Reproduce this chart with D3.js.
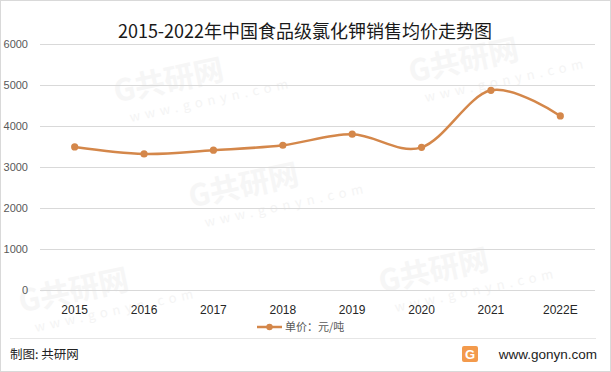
<!DOCTYPE html>
<html>
<head>
<meta charset="utf-8">
<script src="https://cdn.jsdelivr.net/npm/d3@7"></script>
<style>
body { margin: 0; background: #fff; }
svg { display: block; font-family: "Microsoft YaHei", "Noto Sans CJK SC", sans-serif; }
</style>
</head>
<body>
<script>
var years = ['2015', '2016', '2017', '2018', '2019', '2020', '2021', '2022E']
var prices = [3490, 3320, 3410, 3530, 3800, 3480, 4870, 4245]
var yTicks = [0, 1000, 2000, 3000, 4000, 5000, 6000]
var seriesName = '单价：元/吨'

var W = 611, H = 372
var plot = { left: 40, right: 595, top: 44, bottom: 290 }
var color = '#d4874a'

var svg = d3.select('body').append('svg')
	.attr('width', W)
	.attr('height', H)

// outer frame
svg.append('rect')
	.attr('x', 0.5).attr('y', 0.5)
	.attr('width', W - 1).attr('height', H - 1)
	.attr('fill', '#fff')
	.attr('stroke', '#d9d9d9')

// faint watermarks, kept inside the frame
var marks = [[175, 90], [470, 70], [250, 195], [80, 300], [440, 280]]
var wm = svg.append('g').attr('class', 'watermark')
marks.forEach(function(m){
	var g = wm.append('g').attr('transform', 'translate(' + m[0] + ',' + m[1] + ') rotate(-12)')
	g.append('text').attr('x', -60).attr('y', 0)
		.attr('font-size', 30).attr('font-weight', 'bold')
		.attr('fill', '#f6f6f6').text('G共研网')
	g.append('text').attr('x', -50).attr('y', 22)
		.attr('font-size', 13).attr('letter-spacing', 5)
		.attr('fill', '#f4f4f4').text('www.gonyn.com')
})

var x = d3.scaleBand().domain(years).range([plot.left, plot.right])
var y = d3.scaleLinear().domain([0, 6000]).range([plot.bottom, plot.top])

// gridlines
svg.append('g').selectAll('line').data(yTicks).enter().append('line')
	.attr('x1', plot.left).attr('x2', plot.right)
	.attr('y1', function(d){ return Math.round(y(d)) + 0.5 })
	.attr('y2', function(d){ return Math.round(y(d)) + 0.5 })
	.attr('stroke', '#d9d9d9')

// y axis labels
var yAxis = svg.append('g')
	.attr('transform', 'translate(' + plot.left + ',0)')
	.call(d3.axisLeft(y).tickValues(yTicks).tickSize(0).tickPadding(12).tickFormat(d3.format('d')))
yAxis.select('.domain').remove()
yAxis.selectAll('text').attr('font-size', 11).attr('fill', '#595959')
	.attr('font-family', '"Liberation Sans", Arial, sans-serif')

// x axis labels
var xAxis = svg.append('g')
	.attr('transform', 'translate(0,' + plot.bottom + ')')
	.call(d3.axisBottom(x).tickSize(0).tickPadding(15))
xAxis.select('.domain').remove()
xAxis.selectAll('text').attr('font-size', 12).attr('fill', '#262626')
	.attr('font-family', '"Liberation Sans", Arial, sans-serif')

// line
var cx = function(d, i){ return x(years[i]) + x.bandwidth() / 2 }
var line = d3.line()
	.x(function(d, i){ return cx(d, i) })
	.y(function(d){ return y(d) })
	.curve(d3.curveCatmullRom.alpha(0))

svg.append('path').datum(prices)
	.attr('d', line)
	.attr('fill', 'none')
	.attr('stroke', color)
	.attr('stroke-width', 2.5)
	.attr('stroke-linecap', 'round')

svg.append('g').selectAll('circle').data(prices).enter().append('circle')
	.attr('cx', cx)
	.attr('cy', function(d){ return y(d) })
	.attr('r', 3.6)
	.attr('fill', color)

// title
svg.append('text')
	.attr('x', 305).attr('y', 38)
	.attr('text-anchor', 'middle')
	.attr('font-size', 18)
	.attr('fill', '#1a1a1a')
	.text('2015-2022年中国食品级氯化钾销售均价走势图')

// legend
var lg = svg.append('g').attr('transform', 'translate(257,327)')
lg.append('line').attr('x1', 0).attr('x2', 25).attr('y1', 0).attr('y2', 0)
	.attr('stroke', color).attr('stroke-width', 2.5)
lg.append('circle').attr('cx', 12.5).attr('cy', 0).attr('r', 3.2).attr('fill', color)
lg.append('text').attr('x', 28).attr('y', 4)
	.attr('font-size', 11).attr('fill', '#595959')
	.text(seriesName)

// footer
svg.append('line')
	.attr('x1', 10).attr('x2', 596).attr('y1', 338.5).attr('y2', 338.5)
	.attr('stroke', '#e6e6e6')
svg.append('text')
	.attr('x', 10).attr('y', 359)
	.attr('font-size', 12.5)
	.attr('fill', '#222')
	.text('制图: 共研网')

var logo = svg.append('g').attr('transform', 'translate(462,346)')
logo.append('rect').attr('width', 16).attr('height', 16).attr('rx', 2).attr('fill', '#f39a4c')
logo.append('text').attr('x', 8).attr('y', 13).attr('text-anchor', 'middle')
	.attr('font-size', 13).attr('font-weight', 'bold').attr('fill', '#fff')
	.attr('font-family', '"Liberation Sans", Arial, sans-serif')
	.text('G')
svg.append('text')
	.attr('x', 597).attr('y', 359)
	.attr('text-anchor', 'end')
	.attr('font-size', 13.5)
	.attr('fill', '#222')
	.attr('font-family', '"Liberation Sans", Arial, sans-serif')
	.text('www.gonyn.com')
</script>
</body>
</html>
